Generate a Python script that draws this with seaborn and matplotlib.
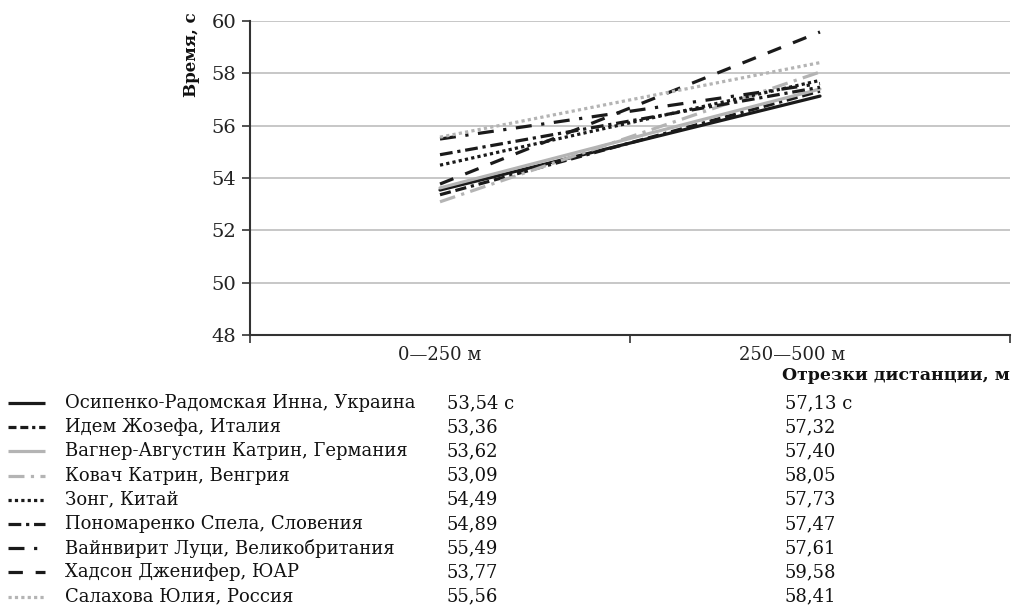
import matplotlib
matplotlib.use("Agg")
import matplotlib.pyplot as plt
import matplotlib.transforms as mtransforms
import seaborn as sns
import pandas as pd

# Split times per 250 m segment
segments = ["0\u2014250 м", "250\u2014500 м"]
swimmers = [
    "Осипенко-Радомская Инна, Украина",
    "Идем Жозефа, Италия",
    "Вагнер-Августин Катрин, Германия",
    "Ковач Катрин, Венгрия",
    "Зонг, Китай",
    "Пономаренко Спела, Словения",
    "Вайнвирит Луци, Великобритания",
    "Хадсон Дженифер, ЮАР",
    "Салахова Юлия, Россия",
]
first_half = [53.54, 53.36, 53.62, 53.09, 54.49, 54.89, 55.49, 53.77, 55.56]
second_half = [57.13, 57.32, 57.40, 58.05, 57.73, 57.47, 57.61, 59.58, 58.41]

BLACK = "#1a1a1a"
GRAY = "#b4b4b4"
colors = [BLACK, BLACK, GRAY, GRAY, BLACK, BLACK, BLACK, BLACK, GRAY]
styles = [
    "-",
    (0, (3.5, 1.5, 3.5, 1.5, 1, 1.5)),
    "-",
    (0, (5, 2, 1, 2)),
    (0, (1, 1)),
    (0, (4, 1.5, 1, 1.5)),
    (0, (5, 3, 1, 3)),
    (0, (4.5, 4)),
    (0, (1, 1)),
]
# key samples in the table use slightly shorter dashes so each pattern fits
key_styles = list(styles)
key_styles[1] = (0, (2.5, 1.2, 2.5, 1.2, 1, 1.2))

sns.set_theme(style="white")
plt.rcParams["font.family"] = ["DejaVu Serif"]

W, H = 1015, 611
fig = plt.figure(figsize=(W / 100, H / 100), dpi=100)
ax = fig.add_axes([250 / W, 1 - 335 / H, 760 / W, 314 / H])

for name, a, b, c, ls in zip(swimmers, first_half, second_half, colors, styles):
    df = pd.DataFrame({"segment": segments, "time": [a, b]})
    sns.lineplot(data=df, x="segment", y="time", ax=ax, color=c,
                 linestyle=ls, linewidth=2.3, sort=False, legend=False)

ax.set_xlim(-0.5, 1.5)
ax.set_ylim(48, 60)
ax.set_yticks(range(48, 61, 2))
ax.set_yticklabels([str(v) for v in range(48, 61, 2)], fontsize=14)
ax.set_xticks([0, 1])
ax.set_xticklabels(segments, fontsize=13)
ax.set_xticks([-0.5, 0.5, 1.5], minor=True)
ax.tick_params(axis="x", which="major", length=0, pad=8, colors="#222222")
ax.tick_params(axis="x", which="minor", length=6, width=1.2, color="#333333",
               direction="out", bottom=True)
ax.tick_params(axis="y", which="major", length=6, width=1.2, color="#333333",
               direction="out", left=True, pad=4, colors="#222222")
# second segment label sits a little left of its category centre
lbl = ax.get_xticklabels()[1]
lbl.set_transform(lbl.get_transform() +
                  mtransforms.ScaledTranslation(-0.28, 0, fig.dpi_scale_trans))
ax.set_xlabel("")
ax.set_ylabel("")
for v in range(50, 61, 2):
    ax.axhline(v, color="#bdbdbd", linewidth=1.2, zorder=0)
for side in ["top", "right"]:
    ax.spines[side].set_visible(False)
ax.spines["left"].set_color("#333333")
ax.spines["left"].set_linewidth(1.5)
ax.spines["bottom"].set_color("#333333")
ax.spines["bottom"].set_linewidth(1.5)

fig.text(192 / W, 1 - 55 / H, "Время, с", rotation=90, ha="center",
         va="center", fontsize=12, fontweight="bold", color="#111111")
fig.text(1010 / W, 1 - 375 / H, "Отрезки дистанции, м", ha="right",
         va="center", fontsize=12.5, fontweight="bold", color="#111111")

# Data table with line-style keys
tab = fig.add_axes([0, 0, 1, 1], zorder=-1)
tab.set_xlim(0, W)
tab.set_ylim(H, 0)
tab.axis("off")
row0, step = 403, 24.2
for i, (name, a, b, c, ls) in enumerate(zip(swimmers, first_half, second_half, colors, key_styles)):
    y = row0 + i * step
    tab.plot([8, 45], [y, y], color=c, linestyle=ls, linewidth=2.3,
             solid_capstyle="butt", dash_capstyle="butt")
    suffix = " с" if i == 0 else ""
    tab.text(65, y, name, ha="left", va="center", fontsize=13, color="#111111")
    tab.text(447, y, f"{a:.2f}".replace(".", ",") + suffix, ha="left",
             va="center", fontsize=13, color="#111111")
    tab.text(785, y, f"{b:.2f}".replace(".", ",") + suffix, ha="left",
             va="center", fontsize=13, color="#111111")

fig.savefig("out.png", dpi=100)
